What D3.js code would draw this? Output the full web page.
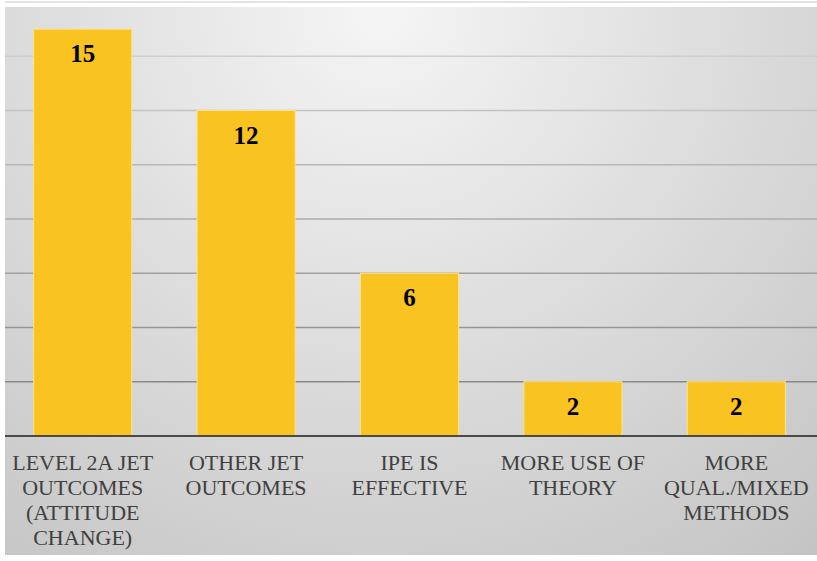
<!DOCTYPE html>
<meta charset="utf-8">
<style>
body {
    margin: 0px;
    background: #fff;
    overflow: hidden;
}
.grid line {
  stroke: url(#gridFade);
  stroke-width: 1.5px;
}
</style>
<body>
<script src="https://d3js.org/d3.v7.min.js"></script>
<script>
// chart data
var categories = [
  ["LEVEL 2A JET", "OUTCOMES", "(ATTITUDE", "CHANGE)"],
  ["OTHER JET", "OUTCOMES"],
  ["IPE IS", "EFFECTIVE"],
  ["MORE USE OF", "THEORY"],
  ["MORE", "QUAL./MIXED", "METHODS"]
];
var counts = [15, 12, 6, 2, 2];
var gridTicks = [2, 4, 6, 8, 10, 12, 14, 16];

var width = 817,
    height = 561;

var svg = d3.select("body").append("svg")
    .attr("width", width)
    .attr("height", height);

var defs = svg.append("defs");

var bg = defs.append("radialGradient")
    .attr("id", "bgFade")
    .attr("gradientUnits", "userSpaceOnUse")
    .attr("cx", 380).attr("cy", 10).attr("r", 800);
bg.append("stop").attr("offset", "0%").attr("stop-color", "#f5f5f5");
bg.append("stop").attr("offset", "100%").attr("stop-color", "#bdbdbd");

var gf = defs.append("linearGradient")
    .attr("id", "gridFade")
    .attr("gradientUnits", "userSpaceOnUse")
    .attr("x1", 0).attr("y1", 0).attr("x2", 0).attr("y2", 436);
gf.append("stop").attr("offset", "0%").attr("stop-color", "#dadada");
gf.append("stop").attr("offset", "100%").attr("stop-color", "#7e7e7e");

// panel
svg.append("rect")
    .attr("x", 5).attr("y", 7)
    .attr("width", width - 5).attr("height", 548)
    .attr("fill", "url(#bgFade)");

var x = d3.scaleBand()
    .domain(d3.range(counts.length))
    .range([1, 818])
    .paddingInner(0.4)
    .paddingOuter(0.2);

var y = d3.scaleLinear()
    .domain([0, 16])
    .range([436, 2]);

var g = svg.append("g");

// gridlines
g.append("g")
    .attr("class", "grid")
    .selectAll("line")
    .data(gridTicks)
    .enter().append("line")
    .attr("x1", 5).attr("x2", width)
    .attr("y1", function(d) { return y(d); })
    .attr("y2", function(d) { return y(d); });

// bars
g.selectAll("rect.bar")
    .data(counts)
    .enter().append("rect")
    .attr("class", "bar")
    .attr("x", function(d, i) { return x(i); })
    .attr("y", function(d) { return y(d); })
    .attr("width", x.bandwidth())
    .attr("height", function(d) { return y(0) - y(d); })
    .attr("fill", "#f9c321")
    .attr("stroke", "#fde28a")
    .attr("stroke-width", 1);

// value labels
g.selectAll("text.value")
    .data(counts)
    .enter().append("text")
    .attr("class", "value")
    .attr("text-anchor", "middle")
    .style("font-family", "'Liberation Serif'")
    .style("font-size", "25px")
    .style("font-weight", "bold")
    .attr("fill", "#000")
    .attr("x", function(d, i) { return x(i) + x.bandwidth() / 2; })
    .attr("y", function(d) { return y(d) + 33; })
    .text(function(d) { return d; });

// baseline
g.append("line")
    .attr("x1", 5).attr("x2", width)
    .attr("y1", y(0)).attr("y2", y(0))
    .attr("stroke", "#4a4a4a")
    .attr("stroke-width", 2.2);

// category labels
var labels = g.selectAll("text.label")
    .data(categories)
    .enter().append("text")
    .attr("class", "label")
    .attr("text-anchor", "middle")
    .style("font-family", "'Liberation Serif'")
    .style("font-size", "22px")
    .attr("fill", "#404040")
    .attr("x", function(d, i) { return x(i) + x.bandwidth() / 2; })
    .attr("y", 470);

labels.selectAll("tspan")
    .data(function(d) { return d; })
    .enter().append("tspan")
    .attr("x", function() { return d3.select(this.parentNode).attr("x"); })
    .attr("dy", function(d, i) { return i === 0 ? 0 : 25; })
    .text(function(d) { return d; });
</script>
</body>
</html>
